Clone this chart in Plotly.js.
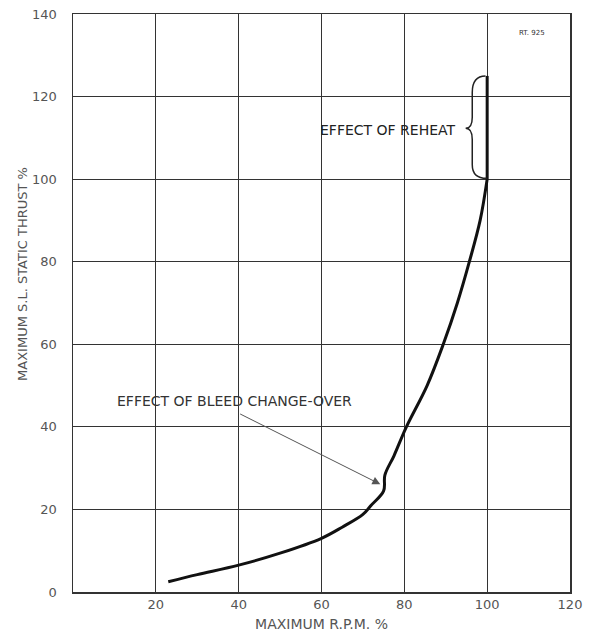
<!DOCTYPE html>
<html>
<head>
<meta charset="utf-8">
<script src="https://cdn.plot.ly/plotly-3.0.1.min.js"></script>
<style>html,body{margin:0;padding:0;background:#fff;}#chart{width:590px;height:644px;}</style>
</head>
<body>
<div id="chart"></div>
<script>
// Thrust curve (max R.P.M. % vs max S.L. static thrust %)
var rpm    = [23, 30, 40, 50, 60, 65, 70, 72, 75, 75.3, 77.5, 80.5, 85.5, 89.4, 92.8, 95.7, 98.3, 100];
var thrust = [2.5, 4.2, 6.5, 9.4, 13, 15.7, 18.8, 21, 24.5, 28.3, 33, 40, 50, 60, 70, 80, 90, 100];
// Reheat segment
var reheatRpm    = [100, 100];
var reheatThrust = [100, 125];
var xTicks = [20, 40, 60, 80, 100, 120];
var yTicks = [0, 20, 40, 60, 80, 100, 120, 140];

var font = "DejaVu Sans, sans-serif";
var grey = "#555";

var traces = [
  {x: rpm, y: thrust, mode: "lines", line: {color: "#111", width: 3, shape: "spline", smoothing: 1}, hoverinfo: "skip"},
  {x: reheatRpm, y: reheatThrust, mode: "lines", line: {color: "#111", width: 3}, hoverinfo: "skip"}
];

var layout = {
  width: 590, height: 644,
  margin: {l: 73, r: 20, t: 14, b: 52},
  paper_bgcolor: "#fff", plot_bgcolor: "#fff",
  showlegend: false,
  font: {family: font, color: grey, size: 13},
  xaxis: {
    range: [0, 120], tickvals: xTicks, ticktext: xTicks.map(String),
    showgrid: true, gridcolor: "#333", gridwidth: 1.2,
    zeroline: false, showline: true, linecolor: "#333", linewidth: 1.5, mirror: true,
    ticks: "", ticklen: 0, tickfont: {family: font, size: 13, color: grey},
    title: {text: "MAXIMUM R.P.M. %", font: {family: font, size: 14, color: grey}, standoff: 8}
  },
  yaxis: {
    range: [0, 140], tickvals: yTicks, ticktext: yTicks.map(String),
    showgrid: true, gridcolor: "#333", gridwidth: 1.2,
    zeroline: false, showline: true, linecolor: "#333", linewidth: 1.5, mirror: true,
    ticks: "", ticklen: 0, ticklabelstandoff: 12, tickfont: {family: font, size: 13, color: grey}
  },
  shapes: [
    {type: "path", xref: "x", yref: "y",
     path: "M 99.6,125 Q 96.4,125 96.4,121 L 96.4,115 Q 96.4,112.3 94.8,112.3 Q 96.4,112.3 96.4,109.6 L 96.4,103.5 Q 96.4,100.2 99.9,100.2",
     line: {color: "#222", width: 1.5}}
  ],
  annotations: [
    {x: -0.103, y: 0.55, xref: "paper", yref: "paper", xanchor: "center", yanchor: "middle",
     text: "MAXIMUM S.L. STATIC THRUST %", textangle: -90,
     showarrow: false, font: {family: font, size: 13, color: grey}},
    {x: 76.1, y: 111.9, xref: "x", yref: "y", text: "EFFECT OF REHEAT", showarrow: false,
     font: {family: font, size: 14, color: "#222"}},
    {x: 39.1, y: 46.2, xref: "x", yref: "y", text: "EFFECT OF BLEED CHANGE-OVER", showarrow: false,
     font: {family: font, size: 14, color: "#333"}},
    {x: 74.2, y: 26.1, xref: "x", yref: "y", ax: 40, ay: 43.3, axref: "x", ayref: "y",
     text: "", showarrow: true, arrowhead: 2, arrowsize: 1.6, arrowwidth: 1, arrowcolor: "#555"},
    {x: 110.8, y: 135.4, xref: "x", yref: "y", text: "RT. 925", showarrow: false,
     font: {family: font, size: 7, color: "#333"}}
  ]
};

Plotly.newPlot("chart", traces, layout, {displayModeBar: false, staticPlot: true});
</script>
</body>
</html>
